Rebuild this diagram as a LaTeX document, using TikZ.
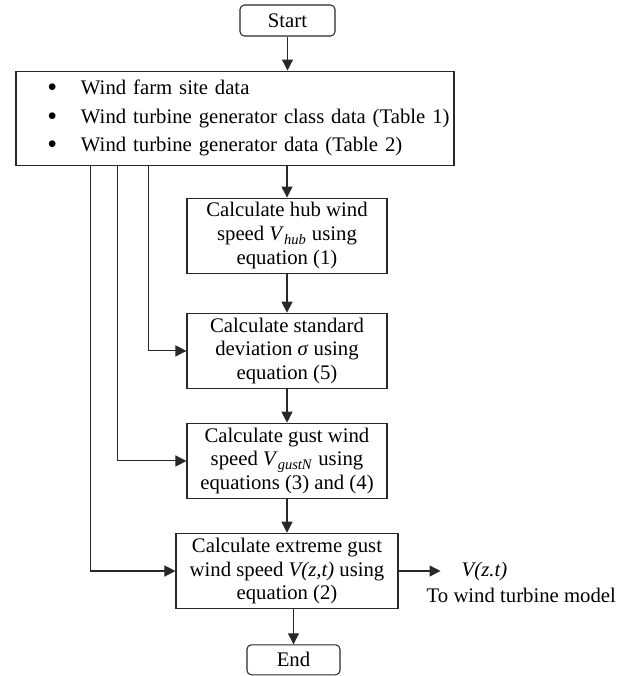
\documentclass[tikz,border=0pt]{standalone}
\usepackage{fontspec}
\setmainfont{Liberation Serif}
\usetikzlibrary{arrows.meta,positioning}
\definecolor{lineink}{RGB}{40,40,40}
\newcommand{\dataitem}[1]{\hspace*{0.56cm}\makebox[0.67cm][l]{\raisebox{-0.1em}{\fontsize{16}{16}\selectfont\textbullet}}#1}

\begin{document}
\begin{tikzpicture}[
    node distance=0.7cm,
    box/.style={draw=lineink, rectangle, line width=0.6pt, minimum width=4cm, minimum height=1.51cm, align=center, inner sep=1pt, font=\fontsize{11.8}{13.6}\selectfont},
    term/.style={box, rounded corners=2.5pt, minimum width=1.9cm, minimum height=0.62cm},
    data/.style={box, text width=8.62cm, inner xsep=0.07cm, minimum height=1.88cm, align=left, font=\fontsize{11.8}{16.2}\selectfont},
    lbl/.style={font=\fontsize{11.8}{13.6}\selectfont},
    arrow/.style={-{Triangle[length=2.2mm,width=2.2mm]}, line width=0.6pt, draw=lineink}
]
    \useasboundingbox (-5.75,0.41) rectangle (6.91,-13.11);

    % --- Start and input data ---
    \node[term] (start) {Start};
    \node[data, below=0.68cm of start, xshift=-1.05cm] (sitedata) {\dataitem{Wind farm site data}\\ \dataitem{Wind turbine generator class data (Table 1)}\\ \dataitem{Wind turbine generator data (Table 2)}};

    % --- Calculation steps ---
    \node[box, below=0.64cm of sitedata, xshift=1.04cm] (hub) {Calculate hub wind\\speed \textit{V}\textsubscript{\textit{hub}} using\\equation (1)};
    \node[box, below=0.77cm of hub] (sigma) {Calculate standard\\deviation \textit{σ} using\\equation (5)};
    \node[box, below=0.67cm of sigma] (gust) {Calculate gust wind\\speed \textit{V}\textsubscript{\textit{gustN}} using\\equations (3) and (4)};
    \node[box, minimum width=4.44cm, below=0.67cm of gust] (extreme) {Calculate extreme gust\\wind speed \textit{V(z,t)} using\\equation (2)};
    \node[term, minimum width=1.86cm, minimum height=0.6cm, below=0.7cm of extreme, xshift=0.13cm] (end) {End};

    % --- Output ---
    \coordinate[right=0.84cm of extreme.east] (outtip);
    \node[lbl, right=0.3cm of outtip] (vout) {\textit{V(z.t)}};
    \node[lbl, below=0.52cm of vout.base west, anchor=base west, xshift=-0.7cm] (dest) {To wind turbine model};

    % --- Main flow ---
    \draw[arrow] (start) -- (start |- sitedata.north);
    \draw[arrow] (hub |- sitedata.south) -- (hub);
    \draw[arrow] (hub) -- (sigma);
    \draw[arrow] (sigma) -- (gust);
    \draw[arrow] (gust) -- (extreme);
    \draw[arrow] (extreme.south -| end) -- (end);
    \draw[arrow] (extreme) -- (outtip);

    % --- Data feeds ---
    \draw[arrow] ([xshift=2.66cm]sitedata.south west) |- (sigma.west);
    \draw[arrow] ([xshift=2.04cm]sitedata.south west) |- (gust.west);
    \draw[arrow] ([xshift=1.5cm]sitedata.south west) |- (extreme.west);

\end{tikzpicture}
\end{document}
